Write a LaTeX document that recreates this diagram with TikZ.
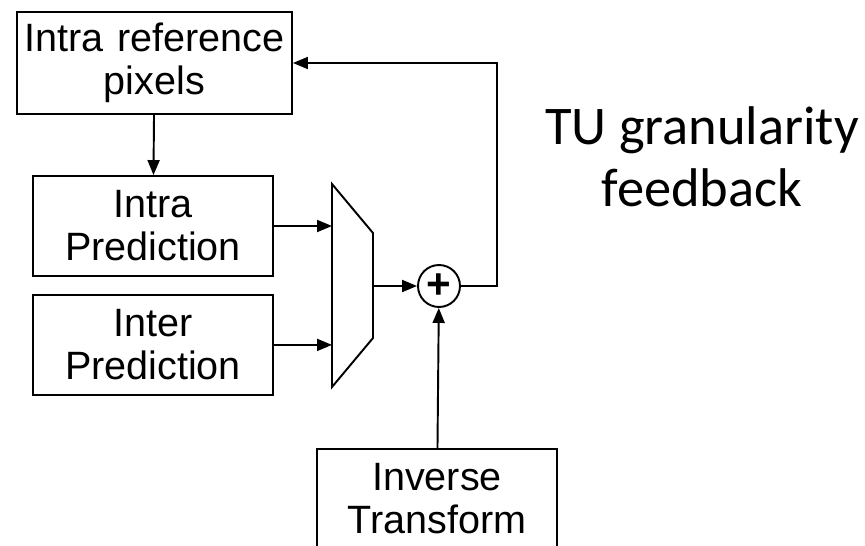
\documentclass[tikz,border=0pt]{standalone}
\usepackage{fontspec}
\setmainfont{Liberation Sans}
\newfontfamily\calibri{Carlito}
\usetikzlibrary{arrows.meta,positioning,calc}

\begin{document}
\begin{tikzpicture}[
    x=0.02cm, y=-0.02cm,
    block/.style={rectangle, draw, line width=1.1pt, minimum width=4.8cm, minimum height=2cm, text width=4.7cm, align=center, inner sep=0pt, font=\fontsize{22.5}{24.5}\selectfont},
    adderstyle/.style={circle, draw, line width=1.1pt, minimum size=0.84cm, inner sep=0pt, font=\fontsize{24}{24}\selectfont\bfseries},
    arrow/.style={-{Triangle[length=0.3cm,width=0.24cm]}, line width=1.1pt},
    line/.style={line width=1.1pt}
]
    \useasboundingbox (0,0) rectangle (865,545);
    \clip (0,0) rectangle (865,545);

    % Blocks
    \node[block, minimum width=5.5cm, text width=5.4cm, minimum height=2.04cm] (refpix) at (154.5,63) {Intra reference\\pixels};
    \node[block] (intrapred) at (153,226) {Intra\\Prediction};
    \node[block, below=0.34cm of intrapred] (interpred) {Inter\\Prediction};
    \node[block] (invtr) at (437,499) {Inverse\\Transform};

    % Mux
    \coordinate (muxtl) at (332,184);
    \coordinate (muxtr) at (373,233);
    \coordinate (muxbr) at (373,338);
    \coordinate (muxbl) at (332,387);
    \coordinate (muxout) at (373,286);
    \draw[line] (muxtl) -- (muxtr) -- (muxbr) -- (muxbl) -- cycle;

    % Adder
    \node[adderstyle] (adder) at (439,286) {+};
    \coordinate (fb) at (497,63);

    % Label
    \node[font=\calibri\fontsize{31}{35}\selectfont, align=center] (tulabel) at (702,157) {TU granularity\\feedback};

    % Arrows
    \draw[arrow] (refpix) -- (intrapred);
    \draw[arrow] (intrapred.east) -- (intrapred.east -| muxtl);
    \draw[arrow] (interpred.east) -- (interpred.east -| muxtl);
    \draw[arrow] (muxout) -- (adder.west);
    \draw[arrow] (invtr) -- (adder);
    \draw[arrow] (adder.east) -| (fb) -- (refpix.east);

\end{tikzpicture}
\end{document}
